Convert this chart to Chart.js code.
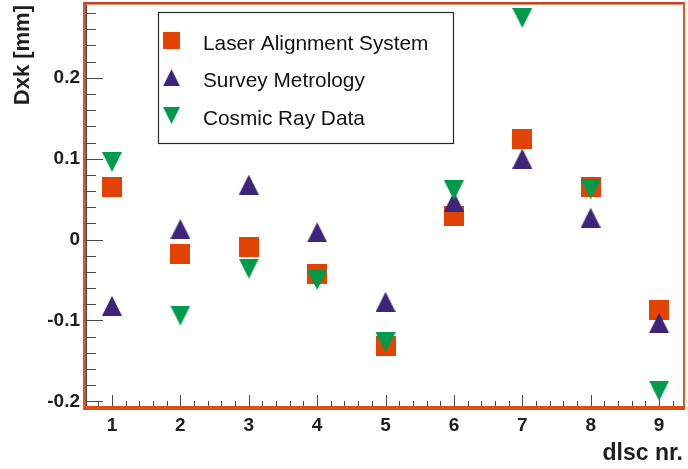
<!DOCTYPE html>
<html>
<head>
<meta charset="utf-8">
<script src="https://cdn.jsdelivr.net/npm/chart.js@4/dist/chart.umd.min.js"></script>
<style>
  html, body { margin: 0; padding: 0; background: #fff; }
  canvas { display: block; }
</style>
</head>
<body>
<canvas id="c" width="688" height="469"></canvas>
<script>
// Disc-by-disc Dxk offsets from three alignment methods
const discs = [1, 2, 3, 4, 5, 6, 7, 8, 9];
const laserValues  = [0.065, -0.018, -0.009, -0.042, -0.132, 0.029, 0.124, 0.065, -0.087];
const surveyValues = [-0.082, 0.013, 0.068, 0.009, -0.077, 0.047, 0.100, 0.027, -0.103];
const cosmicValues = [0.096, -0.094, -0.036, -0.050, -0.127, 0.061, 0.274, 0.062, -0.187];
const seriesNames  = ['Laser Alignment System', 'Survey Metrology', 'Cosmic Ray Data'];

const xTickValues = [1, 2, 3, 4, 5, 6, 7, 8, 9];
const xTickLabels = ['1', '2', '3', '4', '5', '6', '7', '8', '9'];
const yTickValues = [-0.2, -0.1, 0, 0.1, 0.2];
const yTickLabels = ['-0.2', '-0.1', '0', '0.1', '0.2'];

const xTitle = 'dlsc nr.';
const yTitle = 'Dxk [mm]';

const COLORS = { laser: '#e34300', survey: '#3c257a', cosmic: '#009b4a' };
const FONT_FAMILY = '"Liberation Sans", Arial, sans-serif';

// Marker sprites (centred on the data value)
function makeMarker(kind, size, color) {
  const cv = document.createElement('canvas');
  cv.width = size; cv.height = size;
  const g = cv.getContext('2d');
  g.fillStyle = color;
  g.beginPath();
  if (kind === 'square') {
    g.rect(0, 0, size, size);
  } else if (kind === 'up') {
    g.moveTo(size / 2, 0); g.lineTo(size, size); g.lineTo(0, size);
  } else {
    g.moveTo(0, 0); g.lineTo(size, 0); g.lineTo(size / 2, size);
  }
  g.closePath();
  g.fill();
  return cv;
}
const markers = {
  laser:  makeMarker('square', 20, COLORS.laser),
  survey: makeMarker('up', 20, COLORS.survey),
  cosmic: makeMarker('down', 20, COLORS.cosmic)
};
const legendMarkers = [
  makeMarker('square', 17, COLORS.laser),
  makeMarker('up', 17, COLORS.survey),
  makeMarker('down', 17, COLORS.cosmic)
];

function toPoints(vals) { return discs.map((d, i) => ({ x: d, y: vals[i] })); }

// Minor tick positions along both axes
const xMinor = [];
for (let k = 4; k <= 46; k++) xMinor.push(k / 5);
const yMinor = [];
for (let k = -10; k <= 14; k++) yMinor.push(k / 50);

const isMajor = (v, majors) => majors.some(m => Math.abs(m - v) < 1e-6);

// keep the plot frame exactly where the layout puts it
function noScalePadding(s) {
  s.paddingTop = 0; s.paddingBottom = 0; s.paddingLeft = 0; s.paddingRight = 0;
}

const frameAndTicks = {
  id: 'frameAndTicks',
  beforeDatasetsDraw(chart) {
    const { ctx, chartArea: a, scales: { x, y } } = chart;
    ctx.save();
    // inward tick marks
    ctx.strokeStyle = '#4a4a4a';
    ctx.lineWidth = 1;
    ctx.beginPath();
    yMinor.forEach(v => {
      const p = Math.round(y.getPixelForValue(v)) + 0.5;
      ctx.moveTo(a.left, p);
      ctx.lineTo(a.left + (isMajor(v, yTickValues) ? 17 : 10), p);
    });
    xMinor.forEach(v => {
      const p = Math.round(x.getPixelForValue(v)) + 0.5;
      ctx.moveTo(p, a.bottom - 1);
      ctx.lineTo(p, a.bottom - (isMajor(v, xTickValues) ? 12 : 6));
    });
    ctx.stroke();
    // frame
    ctx.fillStyle = '#d9532b';
    ctx.fillRect(a.left - 3, a.top - 3, 3, a.bottom - a.top + 6);
    ctx.fillStyle = '#444';
    ctx.fillRect(a.left, a.top, 1, a.bottom - a.top);
    ctx.fillStyle = '#b8452c';
    ctx.fillRect(a.left - 2, a.top - 3, a.right - a.left + 4, 2);
    ctx.fillStyle = '#ea9070';
    ctx.fillRect(a.left, a.top - 1, a.right - a.left, 1);
    ctx.fillStyle = '#e0572a';
    ctx.fillRect(a.right, a.top - 3, 2, a.bottom - a.top + 5);
    ctx.fillStyle = '#e04b12';
    ctx.fillRect(a.left - 2, a.bottom - 1, a.right - a.left + 4, 4);
    ctx.restore();
  }
};

const boxLegend = {
  id: 'boxLegend',
  afterDatasetsDraw(chart) {
    const { ctx } = chart;
    ctx.save();
    ctx.fillStyle = '#fff';
    ctx.fillRect(158, 12, 295, 131);
    ctx.strokeStyle = '#2a2a2a';
    ctx.lineWidth = 1.2;
    ctx.strokeRect(158.5, 12.5, 295, 131);
    ctx.font = '20.8px ' + FONT_FAMILY;
    ctx.fillStyle = '#111';
    ctx.textBaseline = 'alphabetic';
    const rows = [40.5, 77.7, 115.5];
    seriesNames.forEach((name, i) => {
      const m = legendMarkers[i];
      ctx.drawImage(m, 171.5 - m.width / 2, rows[i] - m.height / 2);
      ctx.fillText(name, 203, rows[i] + 9.5);
    });
    ctx.restore();
  }
};

const tickFont = { family: FONT_FAMILY, weight: 'bold', size: 19 };

new Chart(document.getElementById('c'), {
  type: 'scatter',
  data: {
    datasets: [
      { label: seriesNames[0], data: toPoints(laserValues),  pointStyle: markers.laser,  order: 3 },
      { label: seriesNames[1], data: toPoints(surveyValues), pointStyle: markers.survey, order: 2 },
      { label: seriesNames[2], data: toPoints(cosmicValues), pointStyle: markers.cosmic, order: 1 }
    ]
  },
  options: {
    responsive: false,
    animation: false,
    events: [],
    layout: { padding: { left: 0, right: 2, top: 4, bottom: 0 } },
    plugins: { legend: { display: false }, tooltip: { enabled: false } },
    scales: {
      x: {
        type: 'linear',
        min: 0.62, max: 9.35,
        grid: { display: false, drawTicks: false },
        border: { display: false },
        afterBuildTicks: s => { s.ticks = xTickValues.map(v => ({ value: v })); },
        afterFit: s => { s.height = 62; noScalePadding(s); },
        ticks: {
          padding: 7,
          color: '#1e1e1e',
          font: tickFont,
          callback: v => xTickLabels[xTickValues.indexOf(v)]
        },
        title: {
          display: true, text: xTitle, align: 'end', color: '#1e1e1e',
          font: { family: FONT_FAMILY, weight: 'bold', size: 23 },
          padding: { top: 0, bottom: 2 }
        }
      },
      y: {
        type: 'linear',
        min: -0.207, max: 0.29,
        grid: { display: false, drawTicks: false },
        border: { display: false },
        afterBuildTicks: s => { s.ticks = yTickValues.map(v => ({ value: v })); },
        afterFit: s => { s.width = 86; noScalePadding(s); },
        ticks: {
          padding: 6,
          color: '#1e1e1e',
          font: tickFont,
          callback: v => yTickLabels[yTickValues.findIndex(t => Math.abs(t - v) < 1e-9)]
        },
        title: {
          display: true, text: yTitle, align: 'end', color: '#1e1e1e',
          font: { family: FONT_FAMILY, weight: 'bold', size: 22 },
          padding: { top: 10, bottom: 0 }
        }
      }
    }
  },
  plugins: [frameAndTicks, boxLegend]
});
</script>
</body>
</html>
